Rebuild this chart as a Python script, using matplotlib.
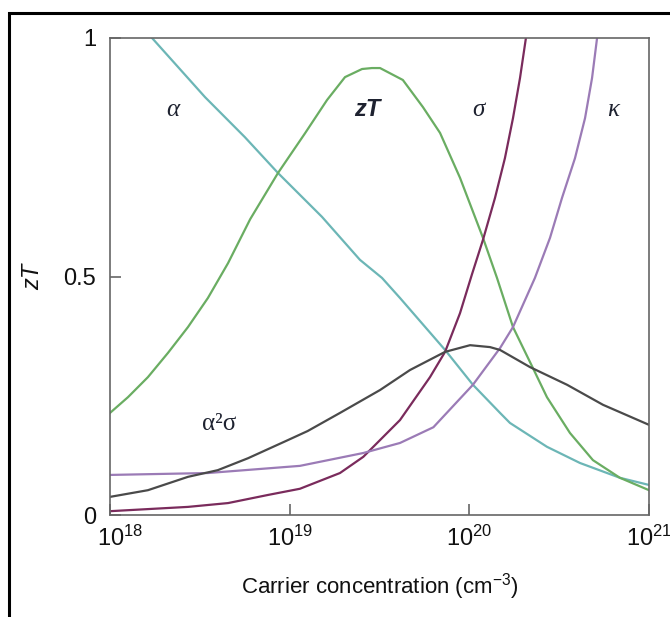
import numpy as np
import matplotlib
matplotlib.use('Agg')
import matplotlib.pyplot as plt
import matplotlib.transforms as mtransforms
from matplotlib.patches import Rectangle

plt.rcParams['font.family'] = ['Liberation Sans', 'DejaVu Sans']
plt.rcParams['mathtext.fontset'] = 'custom'
plt.rcParams['mathtext.rm'] = 'Liberation Sans'
plt.rcParams['mathtext.it'] = 'Liberation Sans:italic'

# 数据 (横轴为 log10 载流子浓度, 从图上读出)
alpha_logn = [18.234, 18.529, 18.751, 18.935, 19.18, 19.391, 19.514, 19.614, 19.865,
              20.02, 20.171, 20.226, 20.432, 20.616, 20.838, 21.0]
alpha_val = [1.0, 0.876, 0.792, 0.717, 0.625, 0.535, 0.497, 0.455, 0.346,
             0.273, 0.214, 0.193, 0.143, 0.109, 0.078, 0.063]

zt_logn = [18.0, 18.1, 18.211, 18.323, 18.434, 18.545, 18.657, 18.78, 18.935, 19.085,
           19.208, 19.308, 19.403, 19.458, 19.503, 19.63, 19.742, 19.837, 19.948, 20.076,
           20.154, 20.243, 20.354, 20.432, 20.56, 20.688, 20.838, 21.0]
zt_val = [0.214, 0.247, 0.289, 0.34, 0.394, 0.455, 0.528, 0.62, 0.717, 0.80,
          0.87, 0.918, 0.935, 0.937, 0.937, 0.912, 0.855, 0.801, 0.707, 0.581,
          0.497, 0.394, 0.308, 0.247, 0.172, 0.115, 0.078, 0.052]

sigma_logn = [18.0, 18.434, 18.657, 18.879, 19.057, 19.28, 19.41, 19.614, 19.781, 19.865,
              19.948, 20.015, 20.076, 20.143, 20.198, 20.243, 20.282, 20.315]
sigma_val = [0.008, 0.017, 0.025, 0.042, 0.055, 0.088, 0.122, 0.199, 0.289, 0.342,
             0.423, 0.505, 0.577, 0.665, 0.748, 0.832, 0.916, 1.0]

kappa_logn = [18.0, 18.545, 19.057, 19.41, 19.614, 19.80, 20.02, 20.171, 20.243, 20.365,
              20.449, 20.516, 20.588, 20.644, 20.683, 20.711]
kappa_val = [0.084, 0.088, 0.103, 0.130, 0.151, 0.184, 0.273, 0.350, 0.394, 0.497,
             0.581, 0.665, 0.748, 0.832, 0.916, 1.0]

pf_logn = [18.0, 18.211, 18.434, 18.60, 18.768, 18.99, 19.10, 19.28, 19.503, 19.67,
           19.865, 20.004, 20.115, 20.171, 20.338, 20.544, 20.744, 21.0]
pf_val = [0.038, 0.052, 0.080, 0.094, 0.119, 0.157, 0.176, 0.214, 0.262, 0.304,
          0.342, 0.356, 0.352, 0.346, 0.310, 0.273, 0.231, 0.189]

xticks = [1e18, 1e19, 1e20, 1e21]
xtick_labels = [r'$\mathregular{10^{18}}$', r'$\mathregular{10^{19}}$',
                r'$\mathregular{10^{20}}$', r'$\mathregular{10^{21}}$']
yticks = [0, 0.5, 1]
ytick_labels = ['0', '0.5', '1']

fig = plt.figure(figsize=(6.7, 6.17), dpi=100)
ax = fig.add_axes([110 / 670, 1 - 515 / 617, 539 / 670, 477 / 617])

ax.plot(10 ** np.array(alpha_logn), alpha_val, color='#6cb6b6', lw=1.6)
ax.plot(10 ** np.array(zt_logn), zt_val, color='#6aad62', lw=1.6)
ax.plot(10 ** np.array(sigma_logn), sigma_val, color='#7a2b5c', lw=1.6)
ax.plot(10 ** np.array(kappa_logn), kappa_val, color='#9b7bb6', lw=1.6)
ax.plot(10 ** np.array(pf_logn), pf_val, color='#4a4a4a', lw=1.6)

ax.set_xscale('log')
ax.set_xlim(1e18, 1e21)
ax.set_ylim(0, 1)
ax.set_xticks(xticks)
ax.set_xticklabels(xtick_labels)
ax.minorticks_off()
ax.set_yticks(yticks)
ax.set_yticklabels(ytick_labels)

for sp in ax.spines.values():
    sp.set_color('#666666')
    sp.set_linewidth(1.2)
ax.tick_params(axis='both', direction='in', length=8, width=1.2, color='#666666',
               labelsize=17, labelcolor='#111111')
ax.tick_params(axis='x', pad=8)
ax.tick_params(axis='y', pad=10)

# 第一个横轴标签稍微右移
lab0 = ax.get_xticklabels()[0]
lab0.set_transform(lab0.get_transform() + mtransforms.ScaledTranslation(10 / 100, 0, fig.dpi_scale_trans))

ax.set_xlabel(r'Carrier concentration (cm$^{\mathregular{-3}}$)', fontsize=16, labelpad=14,
              color='#111111')
ax.set_ylabel('zT', fontsize=17, style='italic', labelpad=14, color='#111111')

# 曲线标注
greek = dict(family=['Liberation Serif', 'DejaVu Serif'], fontsize=18, color='#1e2230',
             ha='center', va='center')
ax.text(10 ** 18.35, 0.85, 'α', style='italic', **greek)
ax.text(10 ** 19.43, 0.85, 'zT', fontsize=17, style='italic', fontweight='bold',
        color='#1e2230', ha='center', va='center')
ax.text(10 ** 20.05, 0.85, 'σ', style='italic', **greek)
ax.text(10 ** 20.80, 0.85, 'κ', style='italic', **greek)
ax.text(10 ** 18.61, 0.19, 'α²σ', **greek)

# 外框
fig.patches.append(Rectangle((9 / 670, -0.1), 1.2, 1 - 13 / 617 + 0.1, transform=fig.transFigure,
                             fill=False, edgecolor='black', lw=2.2))

fig.savefig('out.png', dpi=100)
